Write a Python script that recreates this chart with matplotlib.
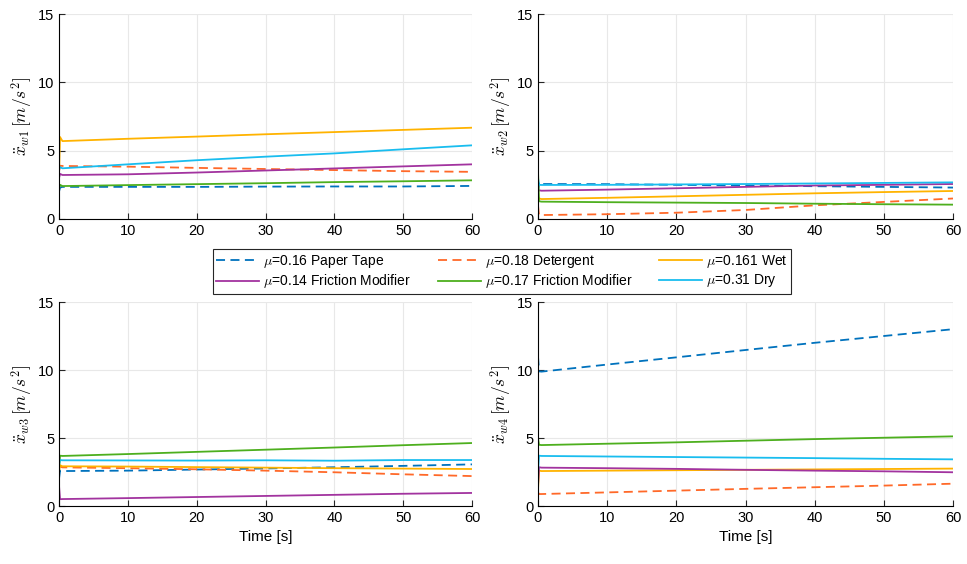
import numpy as np
import matplotlib as mpl
mpl.use('Agg')
import matplotlib.pyplot as plt

plt.rcParams['font.family'] = ['Liberation Sans', 'DejaVu Sans']
plt.rcParams['mathtext.fontset'] = 'cm'

# time samples [s]
t = [0, 0.15, 0.5, 10, 20, 30, 40, 50, 60]

# wheel 1
w1_paper = [2.0, 2.3, 2.35, 2.35, 2.35, 2.37, 2.38, 2.38, 2.42]
w1_det   = [3.5, 3.9, 3.88, 3.83, 3.74, 3.66, 3.58, 3.5, 3.45]
w1_wet   = [3.2, 6.0, 5.7, 5.87, 6.03, 6.2, 6.36, 6.52, 6.68]
w1_fm14  = [3.0, 3.3, 3.22, 3.27, 3.4, 3.55, 3.7, 3.85, 4.0]
w1_fm17  = [2.2, 2.5, 2.41, 2.48, 2.55, 2.62, 2.7, 2.76, 2.83]
w1_dry   = [3.6, 3.8, 3.71, 4.0, 4.3, 4.56, 4.8, 5.1, 5.39]

# wheel 2
w2_paper = [2.0, 2.7, 2.56, 2.55, 2.5, 2.45, 2.4, 2.35, 2.3]
w2_det   = [1.0, 0.3, 0.29, 0.35, 0.46, 0.66, 1.0, 1.25, 1.5]
w2_wet   = [1.6, 1.5, 1.46, 1.55, 1.66, 1.77, 1.88, 1.97, 2.05]
w2_fm14  = [2.0, 2.1, 2.07, 2.15, 2.25, 2.35, 2.45, 2.5, 2.56]
w2_fm17  = [3.5, 1.3, 1.27, 1.23, 1.2, 1.17, 1.12, 1.08, 1.05]
w2_dry   = [3.0, 2.5, 2.49, 2.5, 2.53, 2.56, 2.6, 2.64, 2.68]

# wheel 3
w3_paper = [2.0, 2.6, 2.57, 2.6, 2.68, 2.76, 2.85, 2.95, 3.06]
w3_det   = [3.0, 2.9, 2.84, 2.78, 2.7, 2.6, 2.48, 2.33, 2.2]
w3_wet   = [2.5, 3.0, 2.92, 2.9, 2.86, 2.82, 2.78, 2.75, 2.72]
w3_fm14  = [1.5, 0.5, 0.51, 0.58, 0.66, 0.74, 0.82, 0.9, 0.96]
w3_fm17  = [2.8, 3.7, 3.68, 3.82, 3.98, 4.14, 4.3, 4.47, 4.63]
w3_dry   = [3.0, 3.38, 3.36, 3.35, 3.34, 3.36, 3.33, 3.38, 3.38]

# wheel 4
w4_paper = [11.0, 9.9, 9.88, 10.4, 10.93, 11.47, 12.0, 12.5, 13.0]
w4_det   = [1.0, 0.88, 0.88, 1.0, 1.13, 1.26, 1.38, 1.5, 1.64]
w4_wet   = [1.2, 2.6, 2.57, 2.6, 2.63, 2.66, 2.69, 2.72, 2.75]
w4_fm14  = [1.5, 2.85, 2.82, 2.78, 2.73, 2.66, 2.6, 2.55, 2.48]
w4_fm17  = [5.0, 4.5, 4.48, 4.58, 4.68, 4.8, 4.92, 5.02, 5.12]
w4_dry   = [2.5, 3.7, 3.68, 3.64, 3.6, 3.56, 3.52, 3.47, 3.43]

labels = [r'$\mu$=0.16 Paper Tape', r'$\mu$=0.18 Detergent', r'$\mu$=0.161 Wet',
          r'$\mu$=0.14 Friction Modifier', r'$\mu$=0.17 Friction Modifier', r'$\mu$=0.31 Dry']
colors = ['#0072BD', '#FF6929', '#FFB300', '#A2339F', '#4DAF1E', '#19BDEF']
styles = [(0, (5, 3)), (0, (5, 3)), '-', '-', '-', '-']

wheels = [
    [w1_paper, w1_det, w1_wet, w1_fm14, w1_fm17, w1_dry],
    [w2_paper, w2_det, w2_wet, w2_fm14, w2_fm17, w2_dry],
    [w3_paper, w3_det, w3_wet, w3_fm14, w3_fm17, w3_dry],
    [w4_paper, w4_det, w4_wet, w4_fm14, w4_fm17, w4_dry],
]

fig = plt.figure(figsize=(9.67, 5.64), dpi=100)
W, H = 967.0, 564.0
boxes = [(59, 14, 472, 219), (538, 14, 953, 219),
         (59, 302, 472, 506), (538, 302, 953, 506)]

handles = []
for k, (x0, y0, x1, y1) in enumerate(boxes):
    ax = fig.add_axes([x0 / W, 1 - y1 / H, (x1 - x0) / W, (y1 - y0) / H])
    for j in range(6):
        h, = ax.plot(t, wheels[k][j], color=colors[j], linestyle=styles[j], lw=1.3)
        if k == 0:
            handles.append(h)
    ax.set_xlim(0, 60)
    ax.set_ylim(0, 15)
    ax.set_xticks([0, 10, 20, 30, 40, 50, 60])
    ax.set_yticks([0, 5, 10, 15])
    ax.grid(True, color='#e8e8e8', lw=0.8)
    ax.set_axisbelow(True)
    ax.spines['top'].set_visible(False)
    ax.spines['right'].set_visible(False)
    ax.tick_params(direction='in', labelsize=10.5, length=4, color='#262626')
    ax.set_ylabel(r'$\ddot{x}_{w%d}\,[m/s^2]$' % (k + 1), fontsize=12.5, labelpad=2)
    if k >= 2:
        ax.set_xlabel('Time [s]', fontsize=11)

# matplotlib fills legend columns first, reorder to match row layout
order = [0, 3, 1, 4, 2, 5]
leg = fig.legend([handles[i] for i in order], [labels[i] for i in order],
                 loc='center', bbox_to_anchor=(502 / W, 1 - 271.5 / H), ncol=3,
                 fontsize=10, fancybox=False, edgecolor='#262626', framealpha=1,
                 handlelength=3.1, columnspacing=1.9, handletextpad=0.3,
                 borderpad=0.25, labelspacing=0.2)
leg.get_frame().set_linewidth(0.8)

fig.savefig('out.png', dpi=100)
